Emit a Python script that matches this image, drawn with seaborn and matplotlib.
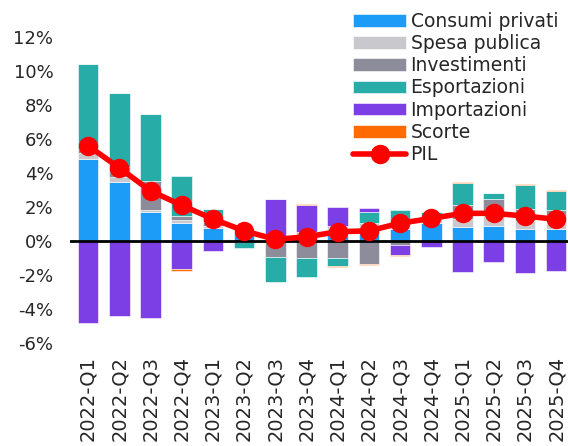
import matplotlib
matplotlib.use("Agg")
import matplotlib.pyplot as plt
import numpy as np
import pandas as pd
import seaborn as sns
from matplotlib.ticker import FuncFormatter

# quarters and contributions to GDP growth (percentage points)
quarters = ["2022-Q1", "2022-Q2", "2022-Q3", "2022-Q4",
            "2023-Q1", "2023-Q2", "2023-Q3", "2023-Q4",
            "2024-Q1", "2024-Q2", "2024-Q3", "2024-Q4",
            "2025-Q1", "2025-Q2", "2025-Q3", "2025-Q4"]

consumi_privati = [4.8, 3.45, 1.72, 1.08, 0.75, 0.5, 0.05, 0.3, 0.6, 0.6, 0.7, 1.04, 0.84, 0.9, 0.7, 0.7]
spesa_publica = [0.35, 0.3, 0.12, 0.16, 0.15, 0.1, 0.05, 0.25, 0.3, 0.45, 0.25, 0.3, 0.45, 0.6, 0.5, 0.55]
investimenti = [0.25, 0.6, 1.7, 0.25, 0.2, -0.05, -0.92, -1.0, -1.0, -1.35, -0.25, 0.0, 0.83, 0.95, 0.66, 0.55]
esportazioni = [5.0, 4.35, 3.9, 2.33, 0.76, -0.33, -1.48, -1.14, -0.45, 0.68, 0.9, 0.38, 1.3, 0.35, 1.45, 1.15]
importazioni = [-4.8, -4.4, -4.5, -1.67, -0.57, 0.0, 2.35, 1.55, 1.1, 0.24, -0.55, -0.37, -1.8, -1.24, -1.9, -1.75]
scorte = [0.0, 0.0, 0.05, -0.06, 0.0, 0.0, 0.05, 0.05, -0.05, -0.05, -0.05, 0.0, 0.04, 0.04, 0.04, 0.05]
pil = [5.6, 4.3, 2.95, 2.1, 1.3, 0.6, 0.1, 0.25, 0.55, 0.6, 1.05, 1.33, 1.63, 1.63, 1.47, 1.28]

components = {
    "Consumi privati": (consumi_privati, "#1C9CF6"),
    "Spesa publica": (spesa_publica, "#C8C8CD"),
    "Investimenti": (investimenti, "#8C8C9B"),
    "Esportazioni": (esportazioni, "#27ACA8"),
    "Importazioni": (importazioni, "#7C3FE6"),
    "Scorte": (scorte, "#FF6A00"),
}

sns.set_style("white")
plt.rcParams["font.family"] = ["DejaVu Sans"]

fig = plt.figure(figsize=(5.68, 4.46), dpi=100)
ax = fig.add_axes([70 / 568, 96 / 446, 498 / 568, 320 / 446])

x = np.arange(len(quarters))
pos_base = np.zeros(len(quarters))
neg_base = np.zeros(len(quarters))
for name, (vals, color) in components.items():
    v = np.array(vals)
    bottom = np.where(v >= 0, pos_base, neg_base)
    ax.bar(x, v, width=0.66, bottom=bottom, color=color, label=name,
           edgecolor="white", linewidth=0.4, zorder=2)
    pos_base += np.clip(v, 0, None)
    neg_base += np.clip(v, None, 0)

ax.axhline(0, color="black", lw=2, zorder=3)

df_pil = pd.DataFrame({"x": x, "PIL": pil})
sns.lineplot(data=df_pil, x="x", y="PIL", ax=ax, color="#FF0000", lw=4,
             marker="o", markersize=14, markeredgewidth=0, label="PIL", zorder=4)

ax.set_xlim(-0.58, 15.38)
ax.set_ylim(-6.4, 12.4)
ax.set_yticks(np.arange(-6, 13, 2))
ax.yaxis.set_major_formatter(FuncFormatter(lambda v, _: f"{v:.0f}%"))
ax.set_xticks(x)
ax.set_xticklabels(quarters, rotation=90)
ax.tick_params(axis="y", labelsize=13, pad=12, length=0)
ax.tick_params(axis="x", labelsize=14, pad=4, length=0)
ax.set_xlabel("")
ax.set_ylabel("")
for s in ax.spines.values():
    s.set_visible(False)

handles, labels = ax.get_legend_handles_labels()
order = [labels.index(n) for n in list(components) + ["PIL"]]
ax.legend([handles[i] for i in order], [labels[i] for i in order],
          loc="upper right", bbox_to_anchor=(0.995, 1.08), frameon=False,
          fontsize=13.5, handlelength=2.8, handleheight=0.65, labelspacing=0.17,
          handletextpad=0.25, borderaxespad=0)

fig.savefig("out.png", dpi=100)
